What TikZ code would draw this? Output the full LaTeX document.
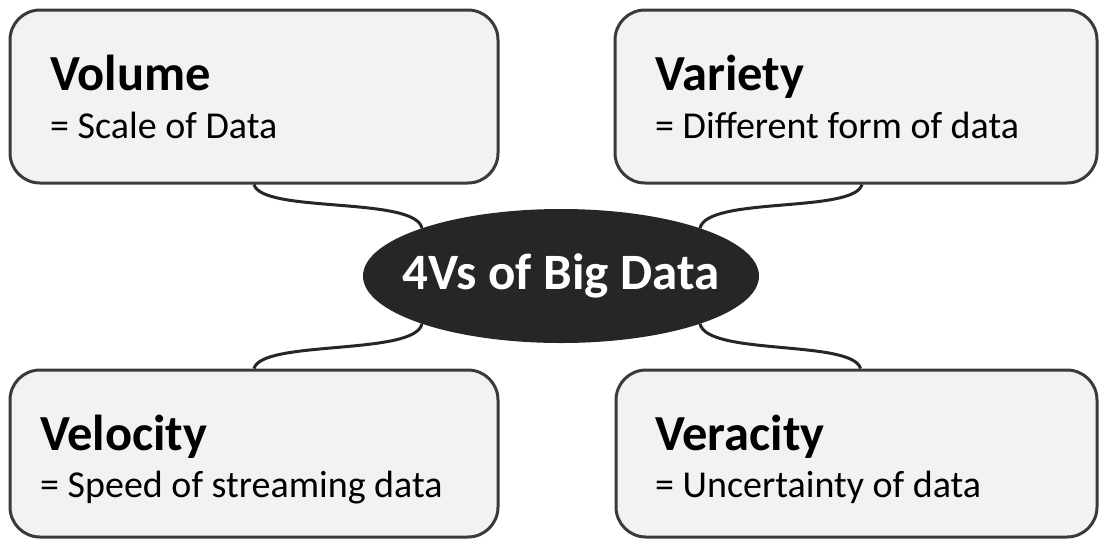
\documentclass[tikz,border=0pt]{standalone}
\usepackage{fontspec}
\setmainfont{Carlito}
\usetikzlibrary{shapes.geometric}
\definecolor{boxfill}{HTML}{F2F2F2}
\definecolor{boxline}{HTML}{3A3A3A}
\definecolor{dark}{HTML}{262626}
\tikzset{
  vbox/.style={draw=boxline, fill=boxfill, line width=3pt, rounded corners=30pt, inner sep=0pt},
  vtitle/.style={anchor=base west, inner sep=0pt, font=\fontsize{50.5}{52}\selectfont\bfseries},
  vsub/.style={anchor=base west, inner sep=0pt, font=\fontsize{38}{40}\selectfont},
  link/.style={draw=dark, line width=3pt},
  core/.style={ellipse, fill=dark, minimum width=396pt, minimum height=134pt, inner sep=0pt},
  coretext/.style={inner sep=0pt, text=white, font=\fontsize{51}{53}\selectfont\bfseries}
}
\begin{document}
\begin{tikzpicture}[x=1pt, y=-1pt]
\useasboundingbox (0,0) rectangle (1099,539);
\node[vbox, minimum width=488pt, minimum height=173pt] (vol) at (254,96.5) {};
\node[vbox, minimum width=482pt, minimum height=173pt] (var) at (856,96.5) {};
\node[vbox, minimum width=488pt, minimum height=167pt] (vel) at (254,453.5) {};
\node[vbox, minimum width=481pt, minimum height=167pt] (ver) at (856.5,453.5) {};
\node[core] (core) at (561,276) {};
\node[coretext] (corelabel) at (core.center) {4Vs of Big Data};
\path[link] (vol.south) .. controls +(8,29) and +(-7,-32) .. (core.161);
\path[link] ([xshift=6pt]var.south) .. controls +(-8,29) and +(7,-32) .. (core.19);
\path[link] (core.199) .. controls +(-7,32) and +(8,-29) .. (vel.north);
\path[link] (core.341) .. controls +(7,32) and +(-8,-29) .. ([xshift=4pt]ver.north);
\node[vtitle] (t1) at (50,90) {Volume};
\node[vsub] (s1) at (50,138) {= Scale of Data};
\node[vtitle] (t2) at (655,90) {Variety};
\node[vsub] (s2) at (655,138) {= Different form of data};
\node[vtitle] (t3) at (40,450) {Velocity};
\node[vsub] (s3) at (40,497) {= Speed of streaming data};
\node[vtitle] (t4) at (655,450) {Veracity};
\node[vsub] (s4) at (655,497) {= Uncertainty of data};
\end{tikzpicture}
\end{document}
